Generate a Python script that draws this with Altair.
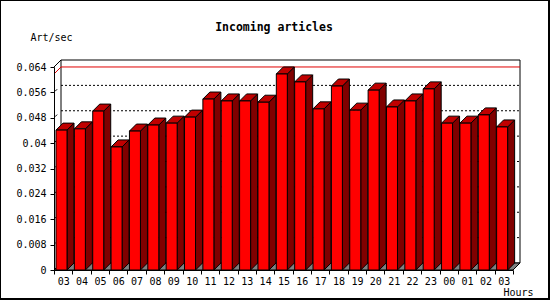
import json
import altair as alt
import pandas as pd

# ---------------- data ----------------
HOURS = ["03", "04", "05", "06", "07", "08", "09", "10", "11", "12", "13", "14",
         "15", "16", "17", "18", "19", "20", "21", "22", "23", "00", "01", "02", "03"]
VALUES = [0.0441, 0.0445, 0.0501, 0.0388, 0.0438, 0.0457, 0.0463, 0.0482, 0.0539,
          0.0533, 0.0533, 0.0529, 0.0618, 0.0593, 0.0508, 0.0580, 0.0504, 0.0567,
          0.0514, 0.0533, 0.0571, 0.0463, 0.0463, 0.0489, 0.0451]
Y_TICKS = [0, 0.008, 0.016, 0.024, 0.032, 0.04, 0.048, 0.056, 0.064]
TITLE = "Incoming articles"
Y_TITLE = "Art/sec"
X_TITLE = "Hours"

# ---------------- style / geometry ----------------
W, H = 459, 203            # front plane size in px
N = len(VALUES)
YMAX = Y_TICKS[-1]
DEPTH = 7                  # 3D depth in px
DX = DEPTH * N / W         # depth in x data units
DY = DEPTH * YMAX / H      # depth in y data units
BAR_OFF = 2 * N / W
BAR_W = 11 * N / W
FONT = "DejaVu Sans Mono"
FRONT, TOP, SIDE, FLOOR = "#ff0000", "#c00000", "#800000", "#808080"

xs = alt.Scale(domain=[0, N], nice=False, zero=False)
ys = alt.Scale(domain=[0, YMAX], nice=False, zero=False)

x_vals = [k / 2 for k in range(0, 2 * N + 1)]
label_expr = "datum.value % 1 ? " + json.dumps(HOURS) + "[floor(datum.value)] : ''"

XAXIS = alt.Axis(
    values=x_vals, labelExpr=label_expr, grid=False, tickSize=4, zindex=1,
    tickOpacity={"condition": {"test": "datum.value % 1 != 0", "value": 0}, "value": 1},
    labelPadding=2, labelFont=FONT, labelFontSize=10, labelColor="black",
    labelOverlap=False, labelFlush=False, labelAngle=0,
    tickColor="black", domainColor="black",
    title=X_TITLE, titleFont=FONT, titleFontSize=10, titleFontWeight="normal",
    titleColor="black", titleAlign="right", titleBaseline="alphabetic",
    titleAngle=0, titleX=479, titleY=25.5)

YAXIS = alt.Axis(
    values=Y_TICKS, labelExpr="format(datum.value, '~g')", grid=False, tickSize=4,
    labelPadding=4, zindex=1,
    labelFont=FONT, labelFontSize=10, labelColor="black",
    labelOverlap=False, labelFlush=False,
    tickColor="black", domainColor="black",
    title=Y_TITLE, titleFont=FONT, titleFontSize=10, titleFontWeight="normal",
    titleColor="black", titleAngle=0, titleAlign="left",
    titleBaseline="alphabetic", titleX=-24, titleY=-27)


def X(f, **kw):
    return alt.X(f, type="quantitative", scale=xs, axis=XAXIS, **kw)


def Y(f, **kw):
    return alt.Y(f, type="quantitative", scale=ys, axis=YAXIS, **kw)


# ---------------- tables built from the arrays ----------------
bars = pd.DataFrame({"idx": range(N), "hour": HOURS, "value": VALUES})
bars["xl"] = bars["idx"] + BAR_OFF
bars["xr"] = bars["xl"] + BAR_W
bars["base"] = 0.0

side_rows, top_rows = [], []
for _, r in bars.iterrows():
    side_rows.append({"idx": r.idx, "x": r.xr, "y": r.value, "y2": 0.0})
    side_rows.append({"idx": r.idx, "x": r.xr + DX, "y": r.value + DY, "y2": DY})
    top_rows.append({"idx": r.idx, "y": r.value, "x": r.xl, "x2": r.xr})
    top_rows.append({"idx": r.idx, "y": r.value + DY, "x": r.xl + DX, "x2": r.xr + DX})
side = pd.DataFrame(side_rows)
top = pd.DataFrame(top_rows)

floor = pd.DataFrame({"y": [0.0, DY], "x": [0.0, DX], "x2": [float(N), N + DX]})
wall = pd.DataFrame({"x": [DX], "x2": [N + DX], "y": [DY], "y2": [YMAX + DY]})
grid = pd.DataFrame({"lvl": Y_TICKS[1:-1]})
grid["yb"] = grid["lvl"] + DY
grid["x"] = DX
grid["x2"] = N + DX
grid["dx1"] = 0.15 * DX
grid["dy1"] = grid["lvl"] + 0.15 * DY
grid["dx2"] = 0.45 * DX
grid["dy2"] = grid["lvl"] + 0.45 * DY
maxv = max(VALUES)
maxline = pd.DataFrame({"x": [DX, 0.0], "x2": [N + DX, DX],
                        "y": [maxv + DY, maxv], "y2": [maxv + DY, maxv + DY]})
edge = pd.DataFrame({"x": [0.0], "x2": [DX], "y": [YMAX], "y2": [YMAX + DY]})
one = pd.DataFrame({"a": [0]})

# ---------------- layers ----------------
frame = alt.Chart(one).mark_rect(fill="transparent", stroke="black", strokeWidth=2).encode(
    x=alt.value(-54), x2=alt.value(495), y=alt.value(-67), y2=alt.value(232))

title_l = alt.Chart(one).mark_text(
    text=TITLE, font=FONT, fontSize=11.5, fontWeight="bold", color="black",
    align="center", baseline="alphabetic").encode(
    x=alt.value(274 - 54), y=alt.value(31 - 67))

back = alt.Chart(wall).mark_rect(fill="white", stroke="black", strokeWidth=1).encode(
    x=X("x"), x2="x2", y=Y("y"), y2="y2")

gridlines = alt.Chart(grid).mark_rule(color="black", strokeWidth=1, strokeDash=[2, 2]).encode(
    x=X("x"), x2="x2", y=Y("yb"))
gridticks = alt.Chart(grid).mark_rule(color="black", strokeWidth=1).encode(
    x=X("dx1"), x2="dx2", y=Y("dy1"), y2="dy2")

redline = alt.Chart(maxline).mark_rule(color="#e00000", strokeWidth=1).encode(
    x=X("x"), x2="x2", y=Y("y"), y2="y2")

topedge = alt.Chart(edge).mark_rule(color="black", strokeWidth=1).encode(
    x=X("x"), x2="x2", y=Y("y"), y2="y2")

floor_l = alt.Chart(floor).mark_area(orient="horizontal", fill=FLOOR, stroke="black",
                                     strokeWidth=1).encode(
    y=Y("y"), x=X("x"), x2="x2")

side_l = alt.Chart(side).mark_area(orient="vertical", fill=SIDE, stroke="black",
                                   strokeWidth=1).encode(
    x=X("x"), y=Y("y"), y2="y2", detail="idx:N")

top_l = alt.Chart(top).mark_area(orient="horizontal", fill=TOP, stroke="black",
                                 strokeWidth=1).encode(
    y=Y("y"), x=X("x"), x2="x2", detail="idx:N")

front_l = alt.Chart(bars).mark_rect(fill=FRONT, stroke="black", strokeWidth=1).encode(
    x=X("xl"), x2="xr", y=Y("value"), y2="base",
    tooltip=["hour:N", "value:Q"])

chart = alt.layer(
    frame, title_l, back, gridlines, gridticks, redline, topedge, floor_l, side_l, top_l,
    front_l
).properties(
    width=W, height=H,
    padding={"left": 54, "top": 67, "right": 37, "bottom": 30},
    autosize=alt.AutoSizeParams(type="none"),
    background="white",
).configure_view(stroke=None)

chart.save("out.html", embed_options={"renderer": "svg", "actions": False})
